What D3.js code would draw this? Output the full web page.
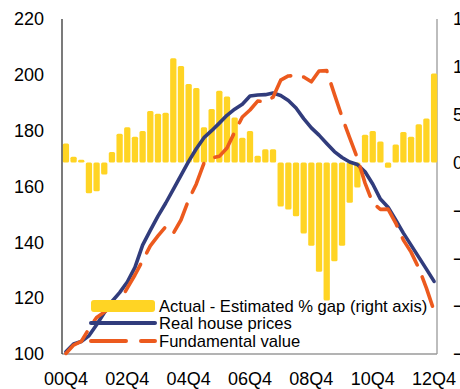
<!DOCTYPE html>
<html><head><meta charset="utf-8">
<script src="https://cdn.jsdelivr.net/npm/d3@7"></script>
<style>
body{margin:0;background:#fff}
svg{display:block}
text{font-family:"Liberation Sans",Arial,Helvetica,sans-serif;fill:#000}
</style>
</head><body>
<svg id="c" width="460" height="389"></svg>
<script>
const quarters = ["00Q4",
 "01Q1","01Q2","01Q3","01Q4","02Q1","02Q2","02Q3","02Q4",
 "03Q1","03Q2","03Q3","03Q4","04Q1","04Q2","04Q3","04Q4",
 "05Q1","05Q2","05Q3","05Q4","06Q1","06Q2","06Q3","06Q4",
 "07Q1","07Q2","07Q3","07Q4","08Q1","08Q2","08Q3","08Q4",
 "09Q1","09Q2","09Q3","09Q4","10Q1","10Q2","10Q3","10Q4",
 "11Q1","11Q2","11Q3","11Q4","12Q1","12Q2","12Q3","12Q4"];

// Actual - Estimated % gap (right axis)
const gap = [2.0,0.6,0.3,-3.2,-3.0,-1.25,1.1,3.0,3.7,2.7,3.3,5.4,5.1,5.2,10.9,10.1,8.2,7.8,3.7,5.6,
 7.5,6.9,4.7,2.6,3.3,0.7,1.4,1.4,-4.6,-4.9,-5.6,-7.4,-8.7,-11.4,-14.4,-10.3,-8.7,-4.2,-2.6,2.9,
 3.3,2.2,-0.55,1.9,3.2,2.7,4.0,4.6,9.3];

// Real house prices (left axis)
const realPrices = [100.8,103.6,104.5,106.5,110.5,114.8,118.8,122.0,125.8,131.0,139.0,144.3,149.4,154.0,159.0,164.0,169.0,173.5,177.5,180.0,
 182.7,185.5,187.7,189.5,192.4,192.8,192.9,193.5,192.6,190.8,188.1,184.3,181.0,178.4,175.4,172.5,170.4,168.8,167.9,165.3,
 160.9,155.5,152.6,148.0,143.3,139.0,134.7,130.4,126.0];

// Fundamental value (left axis)
const fundamental = [100.2,103.2,104.5,109.0,113.1,115.0,116.9,118.8,123.6,128.3,133.5,138.7,142.3,145.6,143.2,148.0,155.2,160.9,168.4,170.2,
 170.8,173.8,179.5,184.9,187.4,190.6,190.4,192.0,198.1,199.6,199.7,199.2,197.5,201.4,201.5,193.1,184.9,177.4,170.2,161.2,
 154.1,151.8,151.9,146.9,140.8,136.5,130.8,123.6,115.4];

const leftTicks = [100,120,140,160,180,200,220];
const rightTicks = [15,10,5,0,-5,-10,-15,-20];
const xTickLabels = ["00Q4","02Q4","04Q4","06Q4","08Q4","10Q4","12Q4"];
const legendLabels = ["Actual - Estimated % gap (right axis)","Real house prices","Fundamental value"];

const colors = {bar:"#FFD424", navy:"#313C7C", orange:"#EC5A1E", frame:"#9a9a9a"};

const svg = d3.select("#c");
const L = 62, R = 437, T = 19, B = 354;

const x = d3.scaleBand().domain(quarters).range([L, R + 1]).paddingInner(0.18).paddingOuter(0.1);
const yL = d3.scaleLinear().domain([100, 220]).range([B, T]);
const yR = d3.scaleLinear().domain([-20, 15]).range([B, T]);
const cx = q => x(q) + x.bandwidth() / 2;

// frame
svg.append("line").attr("x1", L).attr("x2", R).attr("y1", B).attr("y2", B)
  .attr("stroke", colors.frame).attr("stroke-width", 1.3);
svg.append("line").attr("x1", R).attr("x2", R).attr("y1", T).attr("y2", B)
  .attr("stroke", colors.frame).attr("stroke-width", 1.3);

// bars
svg.append("g").selectAll("rect").data(gap).join("rect")
  .attr("x", (d, i) => x(quarters[i]))
  .attr("width", x.bandwidth())
  .attr("y", d => yR(Math.max(0, d)))
  .attr("height", d => Math.abs(yR(d) - yR(0)))
  .attr("rx", 1.5)
  .attr("fill", colors.bar);

// lines
const lineL = d3.line().x((d, i) => cx(quarters[i])).y(d => yL(d));
svg.append("path").datum(realPrices).attr("d", lineL)
  .attr("fill", "none").attr("stroke", colors.navy).attr("stroke-width", 3.6)
  .attr("stroke-linejoin", "round").attr("stroke-linecap", "round");
svg.append("path").datum(fundamental).attr("d", lineL)
  .attr("fill", "none").attr("stroke", colors.orange).attr("stroke-width", 3.6)
  .attr("stroke-dasharray", "31,13").attr("stroke-linecap", "round")
  .attr("stroke-linejoin", "round");

// left axis
svg.append("line").attr("x1", L).attr("x2", L).attr("y1", T).attr("y2", B)
  .attr("stroke", "#222").attr("stroke-width", 1.2);
const axL = svg.append("g").attr("transform", `translate(${L},0)`)
  .call(d3.axisLeft(yL).tickValues(leftTicks).tickSize(0).tickPadding(18));
axL.select(".domain").remove();
axL.selectAll("text").attr("font-size", 18).style("font-family", null);

// right axis
const axR = svg.append("g").attr("transform", `translate(${R},0)`)
  .call(d3.axisRight(yR).tickValues(rightTicks).tickSize(0).tickPadding(16));
axR.select(".domain").remove();
axR.selectAll("text").attr("font-size", 18).style("font-family", null);

// bottom axis
const axB = svg.append("g").attr("transform", `translate(0,${B})`)
  .call(d3.axisBottom(x).tickValues(xTickLabels).tickSize(0).tickPadding(18));
axB.select(".domain").remove();
axB.selectAll("text").attr("font-size", 18).style("font-family", null);
svg.selectAll(".tick text").attr("fill", "#000");
svg.selectAll("g").attr("font-family", null);

// legend
const lg = svg.append("g");
const lx0 = 91, lx1 = 155, ly = [306, 323, 341];
lg.append("rect").attr("x", lx0).attr("y", ly[0] - 6).attr("width", lx1 - lx0).attr("height", 12)
  .attr("rx", 3).attr("fill", colors.bar);
lg.append("line").attr("x1", lx0).attr("x2", lx1).attr("y1", ly[1]).attr("y2", ly[1])
  .attr("stroke", colors.navy).attr("stroke-width", 4).attr("stroke-linecap", "round");
lg.append("line").attr("x1", lx0).attr("x2", lx1).attr("y1", ly[2]).attr("y2", ly[2])
  .attr("stroke", colors.orange).attr("stroke-width", 4).attr("stroke-dasharray", "35,15")
  .attr("stroke-linecap", "round");
lg.selectAll("text").data(legendLabels).join("text")
  .attr("x", 159).attr("y", (d, i) => ly[i]).attr("dy", "0.36em")
  .attr("font-size", 16.6).text(d => d);
</script>
</body></html>
